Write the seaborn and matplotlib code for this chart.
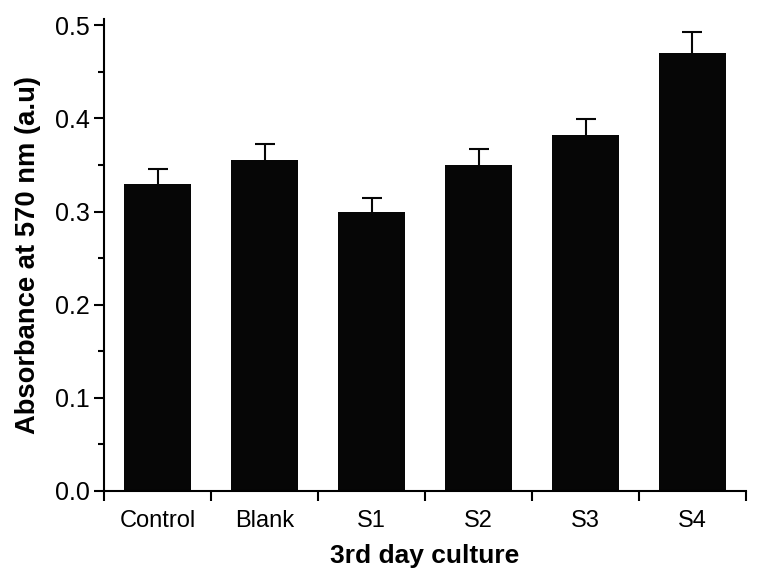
import matplotlib
matplotlib.use("Agg")
import matplotlib.pyplot as plt
import seaborn as sns
import pandas as pd
import numpy as np
from matplotlib.ticker import MultipleLocator, FixedLocator, FormatStrFormatter

# valores
grupos = ["Control", "Blank", "S1", "S2", "S3", "S4"]
absorbancia = [0.330, 0.355, 0.300, 0.350, 0.382, 0.470]
erro = [0.016, 0.018, 0.015, 0.017, 0.017, 0.023]

sns.set_style("ticks", {"axes.edgecolor": "black", "text.color": "black",
                        "xtick.color": "black", "ytick.color": "black",
                        "axes.labelcolor": "black"})
plt.rcParams["font.family"] = ["Liberation Sans", "DejaVu Sans"]

df = pd.DataFrame({"grupo": grupos, "abs": absorbancia})

fig = plt.figure(figsize=(7.62, 5.88), dpi=100)
ax = fig.add_axes([0.1365, 0.165, 0.8425, 0.803])

sns.barplot(data=df, x="grupo", y="abs", color="#060606", width=0.63,
            errorbar=None, saturation=1, linewidth=0, ax=ax, zorder=2)

# barra de erro simetrica atras da barra: so a metade de cima aparece
centros = [p.get_x() + p.get_width() / 2 for p in ax.patches]
ax.errorbar(centros, absorbancia, yerr=erro, fmt="none", ecolor="#060606",
            elinewidth=1.5, capsize=7, capthick=1.5, zorder=1)

ax.set_xlim(-0.5, len(grupos) - 0.5)
ax.set_ylim(0, 0.507)

ax.yaxis.set_major_locator(MultipleLocator(0.1))
ax.yaxis.set_minor_locator(MultipleLocator(0.05))
ax.yaxis.set_major_formatter(FormatStrFormatter("%.1f"))

ax.xaxis.set_minor_locator(FixedLocator(np.arange(-0.5, len(grupos), 1.0)))
ax.tick_params(axis="x", which="major", length=0, labelsize=17, pad=14)
ax.tick_params(axis="x", which="minor", length=7, width=1.5, direction="out")
ax.tick_params(axis="y", which="major", length=7, width=1.5, labelsize=18)
ax.tick_params(axis="y", which="minor", length=4, width=1.5)

for lado in ["left", "bottom"]:
    ax.spines[lado].set_linewidth(1.5)
sns.despine(ax=ax)

ax.set_xlabel("3rd day culture", fontsize=19, fontweight="bold", labelpad=8)
ax.set_ylabel("Absorbance at 570 nm (a.u)", fontsize=19.7, fontweight="bold",
              labelpad=10)

fig.savefig("out.png", dpi=100)
plt.close()
